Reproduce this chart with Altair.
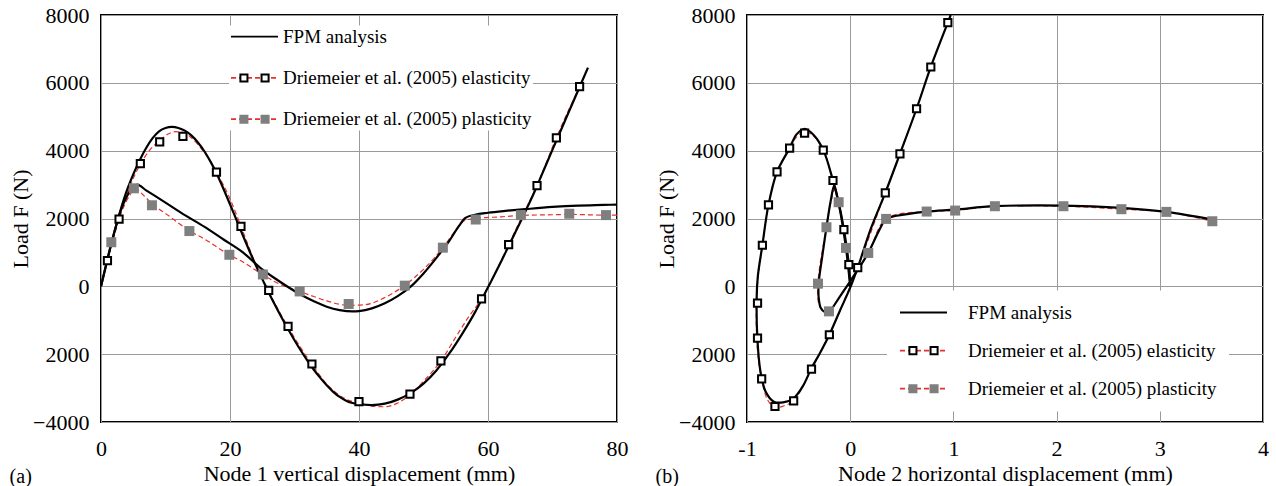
import altair as alt
import pandas as pd

FONT = "Liberation Serif"
RED = "#e8302a"
GRAY = "#7f7f7f"
GRID = "#9a9a9a"

LEG = ["FPM analysis", "Driemeier et al. (2005) elasticity", "Driemeier et al. (2005) plasticity"]
LEG2 = [s + " " for s in LEG]

Y_TICKS = [-4000, -2000, 0, 2000, 4000, 6000, 8000]
A_X_TICKS = [0, 20, 40, 60, 80]
B_X_TICKS = [-1, 0, 1, 2, 3, 4]

# ---------------- panel (a): node 1 vertical displacement ----------------
a_fpm_el_x = [0, 1, 2, 3, 4, 5, 6, 7, 8, 9, 10, 11, 12, 13, 14, 15, 16, 17, 18, 19, 20, 21, 22, 23, 24, 25,
              26, 27, 28, 29, 30, 31, 32, 33, 34, 35, 36, 37, 38, 39, 40, 42, 44, 46, 48, 50, 52, 54, 56, 58,
              59, 60, 61, 62, 63, 64, 65, 66, 67, 68, 70, 72, 74, 75.5]
a_fpm_el_y = [0, 800, 1550, 2230, 2820, 3300, 3720, 4080, 4370, 4570, 4670, 4700, 4670, 4590, 4450, 4250, 3990,
              3670, 3300, 2870, 2420, 1960, 1500, 1050, 620, 220, -180, -560, -920, -1260, -1590, -1900, -2190,
              -2460, -2700, -2920, -3110, -3260, -3370, -3440, -3470, -3500, -3460, -3340, -3150, -2870, -2480,
              -1980, -1400, -760, -400, -30, 340, 720, 1110, 1500, 1890, 2290, 2700, 3140, 4030, 4910, 5790, 6450]

a_fpm_pl_x = [0, 1, 2, 3, 4, 5, 5.6, 7, 10, 13, 16, 19, 22, 25, 27, 29, 31, 33, 35, 37, 39, 40, 42, 44, 46, 48,
              50, 52, 54, 55.5, 56.5, 58, 60, 63, 66, 70, 74, 78, 80]
a_fpm_pl_y = [0, 800, 1550, 2200, 2650, 2920, 3000, 2830, 2470, 2100, 1760, 1380, 1000, 500, 230, -20, -250,
              -440, -600, -700, -740, -730, -650, -500, -290, -10, 380, 840, 1340, 1780, 2020, 2110, 2170, 2230,
              2280, 2340, 2380, 2400, 2410]

a_ref_el_x = [0, 1, 2.8, 4.5, 6.1, 7.5, 9.1, 10.5, 11.5, 12.7, 14, 16, 17.9, 20, 21.7, 24, 26, 29, 32.7, 35,
              37.5, 40, 42, 44, 46, 47.9, 50, 52.7, 55, 57, 59, 61, 63.2, 65, 67.6, 70.6, 74.2]
a_ref_el_y = [0, 760, 1980, 2950, 3600, 4000, 4300, 4500, 4560, 4540, 4380, 3950, 3370, 2580, 1770, 650, -150,
              -1200, -2300, -2880, -3280, -3450, -3530, -3550, -3440, -3200, -2800, -2200, -1500, -900, -374,
              350, 1230, 1950, 2972, 4380, 5886]

a_ref_pl_x = [0, 1.6, 3, 4.5, 5.3, 6.5, 8, 10, 13.7, 16, 19.9, 22, 25.1, 28, 30.8, 33, 35, 38.4, 41, 44, 47, 50,
              53, 55, 56.5, 58.1, 62, 65.1, 70, 72.6, 78.3, 80]
a_ref_pl_y = [0, 1250, 2100, 2700, 2880, 2700, 2420, 2150, 1640, 1400, 930, 720, 340, 40, -150, -300, -430, -560,
              -540, -330, 20, 500, 1140, 1650, 1950, 2000, 2050, 2090, 2110, 2120, 2100, 2100]

a_mk_el_x = [1.0, 2.8, 6.1, 9.1, 12.7, 17.9, 21.7, 26.0, 29.0, 32.7, 40.0, 47.9, 52.7, 59.0, 63.2, 67.6, 70.6, 74.2]
a_mk_el_y = [760, 1980, 3620, 4260, 4420, 3370, 1770, -120, -1180, -2290, -3400, -3180, -2200, -370, 1230, 2970,
             4380, 5890]

a_mk_pl_x = [1.6, 5.1, 7.9, 13.7, 19.9, 25.1, 30.8, 38.4, 47.1, 53.0, 58.1, 65.1, 72.6, 78.3]
a_mk_pl_y = [1300, 2890, 2390, 1630, 930, 350, -150, -520, 20, 1140, 1970, 2100, 2140, 2100]

# ---------------- panel (b): node 2 horizontal displacement ----------------
b_fpm_el_x = [0, -0.013, -0.061, -0.11, -0.167, -0.26, -0.35, -0.442, -0.52, -0.587, -0.709, -0.792, -0.851,
              -0.895, -0.906, -0.9, -0.87, -0.82, -0.74, -0.65, -0.548, -0.46, -0.375, -0.29, -0.202, -0.1, 0,
              0.073, 0.2, 0.34, 0.482, 0.643, 0.781, 0.946, 0.974]
b_fpm_el_y = [0, 640, 1673, 2450, 3120, 4016, 4450, 4646, 4480, 4075, 3376, 2402, 1211, 300, -300, -1500, -2500,
              -3100, -3400, -3420, -3300, -2950, -2411, -1950, -1427, -720, -40, 551, 1700, 2756, 3907, 5236,
              6467, 7776, 8000]

b_fpm_pl_x = [0, -0.041, -0.09, -0.13, -0.155, -0.19, -0.23, -0.27, -0.305, -0.305, -0.285, -0.25, -0.206, -0.1,
              0.05, 0.175, 0.28, 0.348, 0.45, 0.741, 1.017, 1.402, 2.066, 2.628, 3.064, 3.509]
b_fpm_pl_y = [0, 1132, 2100, 2700, 2980, 2500, 1742, 900, 100, -350, -640, -750, -740, -300, 380, 984, 1650,
              1988, 2080, 2205, 2264, 2362, 2382, 2313, 2195, 1969]

b_ref_el_x = [0, -0.013, -0.061, -0.11, -0.167, -0.26, -0.35, -0.442, -0.52, -0.587, -0.709, -0.792, -0.851,
              -0.9, -0.91, -0.895, -0.86, -0.8, -0.729, -0.64, -0.548, -0.375, -0.202, 0, 0.073, 0.34, 0.482,
              0.643, 0.781, 0.946]
b_ref_el_y = [0, 640, 1673, 2450, 3120, 4016, 4420, 4560, 4400, 4075, 3376, 2402, 1211, 0, -1000, -2000, -2726,
              -3350, -3580, -3520, -3376, -2441, -1427, 0, 551, 2756, 3907, 5236, 6467, 7776]

b_ref_pl_x = [0, -0.041, -0.112, -0.15, -0.19, -0.23, -0.312, -0.29, -0.206, -0.1, 0.175, 0.348, 0.741, 1.017,
              1.402, 2.066, 2.628, 3.064, 3.509]
b_ref_pl_y = [0, 1132, 2480, 2850, 2450, 1742, 79, -620, -738, -300, 984, 1988, 2205, 2234, 2362, 2362, 2274,
              2195, 1919]

b_mk_el_x = [-0.013, -0.061, -0.167, -0.261, -0.442, -0.587, -0.709, -0.792, -0.851, -0.898, -0.898, -0.858,
             -0.729, -0.548, -0.375, -0.202, 0.073, 0.340, 0.482, 0.643, 0.781, 0.946]
b_mk_el_y = [640, 1673, 3120, 4016, 4518, 4075, 3376, 2402, 1211, -492, -1526, -2726, -3543, -3376, -2441, -1427,
             551, 2756, 3907, 5236, 6467, 7776]

b_mk_pl_x = [-0.041, -0.112, -0.230, -0.312, -0.206, 0.175, 0.348, 0.741, 1.017, 1.402, 2.066, 2.628, 3.064, 3.509]
b_mk_pl_y = [1132, 2480, 1742, 79, -738, 984, 1988, 2205, 2234, 2362, 2362, 2274, 2195, 1919]

# two little squares side by side, used only as the legend symbol
SQ2 = "M-0.6,-0.15H-0.3V0.15H-0.6Z M0.3,-0.15H0.6V0.15H0.3Z"

YLAB = "datum.value == -2000 ? '2000' : format(datum.value, 'd')"


def curves(pairs):
    frames = []
    for name, xs, ys in pairs:
        frames.append(pd.DataFrame({"x": xs, "y": ys, "i": list(range(len(xs))), "curve": name}))
    return pd.concat(frames, ignore_index=True)


def legend_params(lx, ly, pad, off, rowpad, fill, hidden):
    kw = dict(orient="none", legendX=lx, legendY=ly, title=None, padding=pad, labelOffset=off,
              rowPadding=rowpad, symbolSize=2209, clipHeight=20, labelFont=FONT, labelFontSize=19,
              labelLimit=600, labelColor="black", direction="vertical")
    if fill:
        kw["fillColor"] = "white"
    if hidden:
        kw["labelOpacity"] = 0
        kw["symbolStrokeWidth"] = 2
    else:
        kw["symbolStrokeWidth"] = 1.8
    return alt.Legend(**kw)


def panel(xdom, xticks, xtitle, xlabexpr, interp, black, red, mel, mpl, lx, ly, pad, off, rowpad, tag):
    X = alt.X("x:Q", scale=alt.Scale(domain=xdom, nice=False, zero=False),
              axis=alt.Axis(values=xticks, title=xtitle, labelExpr=xlabexpr, labelFont=FONT, titleFont=FONT,
                            labelFlush=False))
    Y = alt.Y("y:Q", scale=alt.Scale(domain=[-4000, 8000], nice=False, zero=False),
              axis=alt.Axis(values=Y_TICKS, title="Load F (N)", labelExpr=YLAB, labelFont=FONT, titleFont=FONT,
                            labelFlush=False))

    red_l = alt.Chart(red).mark_line(color=RED, strokeWidth=1.2, strokeDash=[5, 3], interpolate=interp).encode(
        x=X, y=Y, detail="curve:N", order="i:Q")
    black_l = alt.Chart(black).mark_line(color="black", strokeWidth=2.2, interpolate=interp).encode(
        x=X, y=Y, detail="curve:N", order="i:Q")
    pe = alt.Chart(mel).mark_point(shape="square", filled=True, fill="white", stroke="black", strokeWidth=2,
                                   size=52, opacity=1).encode(x=X, y=Y)
    pp = alt.Chart(mpl).mark_point(shape="square", filled=True, fill=GRAY, strokeWidth=0, size=100,
                                   opacity=1).encode(x=X, y=Y)

    l1 = legend_params(lx, ly, pad, off, rowpad, True, False)
    l2 = legend_params(lx, ly, pad, off, rowpad, False, True)
    d1 = pd.DataFrame({"x": [None] * 3, "y": [None] * 3, "leg": LEG})
    d2 = pd.DataFrame({"x": [None] * 3, "y": [None] * 3, "leg2": LEG2})
    leg_lines = alt.Chart(d1).mark_line().encode(
        x=X, y=Y,
        color=alt.Color("leg:N", scale=alt.Scale(domain=LEG, range=["black", RED, RED]), legend=l1),
        strokeDash=alt.StrokeDash("leg:N", scale=alt.Scale(domain=LEG, range=[[1, 0], [5, 3], [5, 3]]),
                                  legend=l1),
    )
    leg_marks = alt.Chart(d2).mark_point(filled=True, opacity=1, strokeWidth=2).encode(
        x=X, y=Y,
        shape=alt.Shape("leg2:N", scale=alt.Scale(domain=LEG2, range=[SQ2, SQ2, SQ2]), legend=l2),
        fill=alt.Fill("leg2:N", scale=alt.Scale(domain=LEG2, range=["transparent", "white", GRAY]), legend=l2),
        stroke=alt.Stroke("leg2:N", scale=alt.Scale(domain=LEG2, range=["transparent", "black", GRAY]),
                          legend=l2),
    )
    return alt.layer(red_l, black_l, pe, pp, leg_lines, leg_marks).properties(
        width=516, height=407,
        title=alt.TitleParams(tag, orient="bottom", anchor="start", frame="bounds", font=FONT, fontSize=20,
                              fontWeight="normal", color="black", offset=-17),
    )


a_black = curves([("el", a_fpm_el_x, a_fpm_el_y), ("pl", a_fpm_pl_x, a_fpm_pl_y)])
a_red = curves([("el", a_ref_el_x, a_ref_el_y), ("pl", a_ref_pl_x, a_ref_pl_y)])
b_black = curves([("el", b_fpm_el_x, b_fpm_el_y), ("pl", b_fpm_pl_x, b_fpm_pl_y)])
b_red = curves([("el", b_ref_el_x, b_ref_el_y), ("pl", b_ref_pl_x, b_ref_pl_y)])

left = panel([0, 80], A_X_TICKS, "Node 1 vertical displacement (mm)", "format(datum.value, 'd')", "monotone",
             a_black, a_red,
             pd.DataFrame({"x": a_mk_el_x, "y": a_mk_el_y}), pd.DataFrame({"x": a_mk_pl_x, "y": a_mk_pl_y}),
             128, 10.6, 1, 4, 21.3, "(a)")
right = panel([-1, 4], B_X_TICKS, "Node 2 horizontal displacement (mm)",
              "datum.value < 0 ? '-' + format(-datum.value, 'd') : format(datum.value, 'd')", "catmull-rom",
              b_black, b_red,
              pd.DataFrame({"x": b_mk_el_x, "y": b_mk_el_y}), pd.DataFrame({"x": b_mk_pl_x, "y": b_mk_pl_y}),
              140, 275.5, 12, 20, 18.1, "(b)")

chart = alt.hconcat(left, right, spacing=25).resolve_scale(
    x="independent", y="independent", color="independent", strokeDash="independent",
    fill="independent", stroke="independent", shape="independent",
).resolve_legend(
    color="independent", strokeDash="independent", fill="independent", stroke="independent",
    shape="independent",
).properties(
    padding={"left": 8, "top": 3, "right": 0, "bottom": 0},
    background="white",
).configure_axis(
    labelFont=FONT, labelFontSize=22, labelColor="black", titleFont=FONT, titleFontSize=22,
    titleFontWeight="normal", titleColor="black", grid=True, gridColor=GRID, gridWidth=1,
    ticks=False, domain=False,
).configure_axisX(labelPadding=16, titlePadding=4).configure_axisY(labelPadding=12, titlePadding=0).configure_view(
    stroke="black", strokeWidth=2)

chart.save("out.html", embed_options={"renderer": "svg", "actions": False})
